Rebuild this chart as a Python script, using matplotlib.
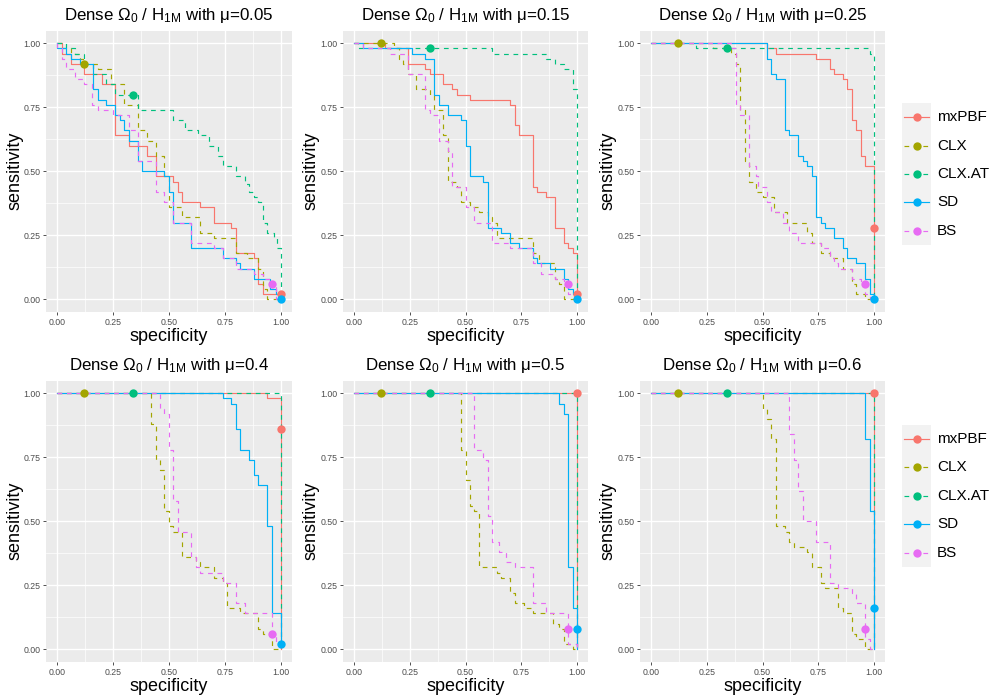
import matplotlib
matplotlib.use("Agg")
import matplotlib.pyplot as plt
from matplotlib.patches import Rectangle
from matplotlib.ticker import MultipleLocator

plt.rcParams['font.family'] = ['Liberation Sans', 'DejaVu Sans']
plt.rcParams['mathtext.fontset'] = 'custom'
plt.rcParams['mathtext.rm'] = 'Liberation Sans'
plt.rcParams['mathtext.it'] = 'Liberation Sans:italic'

# ---------------- data ----------------
mu_labels = ['0.05', '0.15', '0.25', '0.4', '0.5', '0.6']
methods = ['mxPBF', 'CLX', 'CLX.AT', 'SD', 'BS']

# step curves per panel (specificity, sensitivity)
mxPBF_spec = [
    [0, 0.02, 0.06, 0.12, 0.20, 0.26, 0.32, 0.40, 0.44, 0.52, 0.54, 0.56, 0.64, 0.70, 0.78, 0.80, 0.88, 0.90, 0.92, 1.0],
    [0, 0.14, 0.24, 0.32, 0.34, 0.40, 0.44, 0.46, 0.52, 0.70, 0.72, 0.74, 0.80, 0.82, 0.86, 0.90, 0.94, 0.96, 0.98, 1.0],
    [0, 0.52, 0.56, 0.74, 0.80, 0.82, 0.86, 0.88, 0.90, 0.92, 0.94, 0.96, 1.0],
    [0, 0.94, 1.0],
    [0, 1.0],
    [0, 1.0],
]
mxPBF_sens = [
    [1, 0.96, 0.92, 0.88, 0.84, 0.64, 0.60, 0.56, 0.48, 0.46, 0.42, 0.38, 0.36, 0.30, 0.28, 0.18, 0.16, 0.06, 0.02, 0.02],
    [1, 0.98, 0.92, 0.90, 0.88, 0.84, 0.82, 0.80, 0.78, 0.76, 0.68, 0.64, 0.44, 0.42, 0.40, 0.28, 0.22, 0.20, 0.18, 0.02],
    [1, 0.98, 0.96, 0.94, 0.90, 0.88, 0.86, 0.82, 0.70, 0.66, 0.56, 0.52, 0.0],
    [1, 0.98, 0.0],
    [1, 0.0],
    [1, 0.0],
]
CLX_spec = [
    [0, 0.02, 0.06, 0.10, 0.12, 0.18, 0.24, 0.30, 0.36, 0.40, 0.44, 0.48, 0.50, 0.56, 0.64, 0.70, 0.80, 0.85, 0.90, 0.92, 0.94, 1.0],
    [0, 0.18, 0.20, 0.22, 0.24, 0.28, 0.34, 0.36, 0.40, 0.42, 0.46, 0.48, 0.52, 0.56, 0.60, 0.62, 0.64, 0.80, 0.83, 0.90, 0.92, 0.94, 1.0],
    [0, 0.28, 0.36, 0.38, 0.40, 0.42, 0.44, 0.47, 0.50, 0.55, 0.61, 0.70, 0.72, 0.76, 0.80, 0.86, 0.90, 0.92, 0.96, 1.0],
    [0, 0.42, 0.44, 0.46, 0.48, 0.50, 0.52, 0.56, 0.62, 0.64, 0.70, 0.74, 0.76, 0.82, 0.90, 0.92, 0.96, 1.0],
    [0, 0.48, 0.50, 0.52, 0.54, 0.56, 0.64, 0.66, 0.70, 0.72, 0.76, 0.80, 0.89, 0.92, 0.94, 0.98, 1.0],
    [0, 0.50, 0.52, 0.54, 0.56, 0.60, 0.62, 0.64, 0.70, 0.72, 0.76, 0.78, 0.84, 0.86, 0.90, 0.92, 0.96, 1.0],
]
CLX_sens = [
    [1, 0.98, 0.96, 0.94, 0.92, 0.90, 0.84, 0.76, 0.66, 0.62, 0.56, 0.48, 0.36, 0.32, 0.26, 0.24, 0.18, 0.16, 0.12, 0.04, 0.0, 0.0],
    [1, 0.98, 0.94, 0.92, 0.88, 0.82, 0.80, 0.74, 0.64, 0.46, 0.44, 0.38, 0.36, 0.34, 0.32, 0.30, 0.24, 0.18, 0.14, 0.08, 0.06, 0.0, 0.0],
    [1, 0.98, 0.96, 0.92, 0.74, 0.54, 0.46, 0.42, 0.40, 0.34, 0.30, 0.26, 0.22, 0.18, 0.16, 0.12, 0.06, 0.02, 0.0, 0.0],
    [1, 0.88, 0.74, 0.70, 0.54, 0.48, 0.46, 0.36, 0.34, 0.32, 0.28, 0.26, 0.16, 0.14, 0.08, 0.06, 0.0, 0.0],
    [1, 0.78, 0.66, 0.56, 0.54, 0.32, 0.30, 0.28, 0.22, 0.18, 0.16, 0.14, 0.10, 0.08, 0.02, 0.0, 0.0],
    [1, 0.94, 0.90, 0.82, 0.48, 0.46, 0.42, 0.40, 0.38, 0.32, 0.26, 0.24, 0.16, 0.14, 0.06, 0.04, 0.0, 0.0],
]
CLXAT_spec = [
    [0, 0.04, 0.08, 0.12, 0.16, 0.22, 0.26, 0.36, 0.52, 0.57, 0.63, 0.68, 0.72, 0.74, 0.80, 0.84, 0.86, 0.88, 0.90, 0.92, 0.94, 0.97, 0.985, 1.0],
    [0, 0.02, 0.62, 0.86, 0.90, 0.94, 0.98, 1.0],
    [0, 0.20, 0.98, 1.0],
    [0, 1.0],
    [0, 1.0],
    [0, 1.0],
]
CLXAT_sens = [
    [1, 0.98, 0.96, 0.92, 0.88, 0.84, 0.80, 0.74, 0.70, 0.66, 0.64, 0.60, 0.56, 0.52, 0.48, 0.45, 0.42, 0.40, 0.38, 0.30, 0.26, 0.24, 0.20, 0.0],
    [1, 0.98, 0.96, 0.94, 0.92, 0.90, 0.82, 0.0],
    [1, 0.98, 0.96, 0.0],
    [1, 0.0],
    [1, 0.0],
    [1, 0.0],
]
SD_spec = [
    [0, 0, 0.04, 0.06, 0.10, 0.16, 0.18, 0.22, 0.26, 0.28, 0.30, 0.32, 0.36, 0.38, 0.48, 0.50, 0.52, 0.60, 0.74, 0.80, 0.82, 0.88, 0.955, 0.98, 1.0],
    [0, 0.04, 0.26, 0.32, 0.36, 0.38, 0.42, 0.48, 0.50, 0.52, 0.58, 0.60, 0.66, 0.70, 0.74, 0.80, 0.82, 0.88, 0.94, 0.96, 0.98, 1.0],
    [0, 0.52, 0.54, 0.56, 0.60, 0.62, 0.66, 0.68, 0.70, 0.72, 0.74, 0.76, 0.78, 0.82, 0.86, 0.88, 0.92, 0.96, 0.98, 1.0],
    [0, 0.74, 0.78, 0.80, 0.82, 0.86, 0.88, 0.90, 0.94, 0.96, 1.0],
    [0, 0.92, 0.94, 0.96, 0.98, 1.0],
    [0, 0.96, 0.98, 1.0],
]
SD_sens = [
    [1, 0.98, 0.96, 0.94, 0.92, 0.82, 0.78, 0.76, 0.72, 0.70, 0.66, 0.62, 0.54, 0.50, 0.48, 0.42, 0.30, 0.20, 0.16, 0.14, 0.12, 0.08, 0.04, 0.02, 0.0],
    [1, 0.98, 0.96, 0.94, 0.80, 0.76, 0.72, 0.70, 0.60, 0.48, 0.46, 0.28, 0.26, 0.22, 0.20, 0.16, 0.14, 0.12, 0.08, 0.04, 0.02, 0.0],
    [1, 0.94, 0.88, 0.86, 0.66, 0.64, 0.56, 0.54, 0.52, 0.48, 0.32, 0.30, 0.28, 0.24, 0.20, 0.16, 0.14, 0.08, 0.02, 0.0],
    [1, 0.98, 0.96, 0.86, 0.78, 0.74, 0.68, 0.64, 0.48, 0.14, 0.02],
    [1, 0.96, 0.92, 0.32, 0.16, 0.0],
    [1, 0.82, 0.54, 0.0],
]
BS_spec = [
    [0, 0, 0.02, 0.04, 0.08, 0.12, 0.155, 0.18, 0.25, 0.32, 0.36, 0.44, 0.48, 0.52, 0.60, 0.70, 0.74, 0.80, 0.88, 0.92, 0.96, 0.98, 1.0],
    [0, 0.04, 0.16, 0.24, 0.32, 0.34, 0.38, 0.42, 0.44, 0.50, 0.54, 0.62, 0.70, 0.80, 0.84, 0.90, 0.94, 0.96, 1.0],
    [0, 0.36, 0.38, 0.40, 0.44, 0.47, 0.48, 0.52, 0.54, 0.59, 0.62, 0.66, 0.76, 0.80, 0.82, 0.84, 0.90, 0.94, 0.96, 0.98, 1.0],
    [0, 0.46, 0.48, 0.50, 0.52, 0.54, 0.60, 0.62, 0.64, 0.74, 0.80, 0.84, 0.96, 0.98, 1.0],
    [0, 0.54, 0.58, 0.60, 0.62, 0.65, 0.68, 0.72, 0.80, 0.86, 0.96, 1.0],
    [0, 0.62, 0.64, 0.66, 0.68, 0.74, 0.80, 0.84, 0.90, 0.92, 0.96, 0.98, 1.0],
]
BS_sens = [
    [1, 0.98, 0.94, 0.90, 0.86, 0.84, 0.76, 0.74, 0.72, 0.66, 0.54, 0.42, 0.38, 0.30, 0.22, 0.20, 0.16, 0.12, 0.10, 0.08, 0.06, 0.0, 0.0],
    [1, 0.98, 0.96, 0.88, 0.74, 0.72, 0.62, 0.58, 0.44, 0.36, 0.30, 0.22, 0.20, 0.14, 0.10, 0.08, 0.06, 0.02, 0.0],
    [1, 0.98, 0.76, 0.72, 0.52, 0.48, 0.44, 0.38, 0.34, 0.30, 0.26, 0.22, 0.20, 0.16, 0.14, 0.12, 0.08, 0.06, 0.02, 0.0, 0.0],
    [1, 0.94, 0.92, 0.78, 0.58, 0.46, 0.36, 0.32, 0.30, 0.26, 0.18, 0.14, 0.06, 0.02, 0.0],
    [1, 0.78, 0.74, 0.52, 0.42, 0.38, 0.34, 0.32, 0.18, 0.14, 0.02, 0.0],
    [1, 0.84, 0.74, 0.62, 0.50, 0.42, 0.26, 0.24, 0.22, 0.18, 0.04, 0.0, 0.0],
]

# selected operating points per panel
mxPBF_pt_spec = [1, 1, 1, 1, 1, 1]
mxPBF_pt_sens = [0.02, 0.02, 0.28, 0.86, 1.0, 1.0]
CLX_pt_spec = [0.12, 0.12, 0.12, 0.12, 0.12, 0.12]
CLX_pt_sens = [0.92, 1.0, 1.0, 1.0, 1.0, 1.0]
CLXAT_pt_spec = [0.34, 0.34, 0.34, 0.34, 0.34, 0.34]
CLXAT_pt_sens = [0.80, 0.98, 0.98, 1.0, 1.0, 1.0]
SD_pt_spec = [1, 1, 1, 1, 1, 1]
SD_pt_sens = [0.0, 0.0, 0.0, 0.02, 0.08, 0.16]
BS_pt_spec = [0.96, 0.96, 0.96, 0.96, 0.96, 0.96]
BS_pt_sens = [0.06, 0.06, 0.06, 0.06, 0.08, 0.08]

tick_vals = [0, 0.25, 0.5, 0.75, 1.0]
tick_labels = ['0.00', '0.25', '0.50', '0.75', '1.00']

# ---------------- style ----------------
colors = ['#F8766D', '#A3A500', '#00BF7D', '#00B0F6', '#E76BF3']
dashed = [False, True, True, False, True]
curve_spec = [mxPBF_spec, CLX_spec, CLXAT_spec, SD_spec, BS_spec]
curve_sens = [mxPBF_sens, CLX_sens, CLXAT_sens, SD_sens, BS_sens]
pt_spec = [mxPBF_pt_spec, CLX_pt_spec, CLXAT_pt_spec, SD_pt_spec, BS_pt_spec]
pt_sens = [mxPBF_pt_sens, CLX_pt_sens, CLXAT_pt_sens, SD_pt_sens, BS_pt_sens]

W, H = 1000, 700
fig = plt.figure(figsize=(10, 7), dpi=100)
fig.patch.set_facecolor('white')

lefts = [46.2, 342.8, 639.8]
tops = [30.5, 380.5]
pw, ph = 245.5, 281.6

LW = 0.85
for p in range(6):
    r, c = divmod(p, 3)
    ax = fig.add_axes([lefts[c] / W, 1 - (tops[r] + ph) / H, pw / W, ph / H])
    ax.set_facecolor('#EBEBEB')
    for s in ax.spines.values():
        s.set_visible(False)
    ax.set_xlim(-0.05, 1.05)
    ax.set_ylim(-0.05, 1.05)
    ax.xaxis.set_minor_locator(MultipleLocator(0.125))
    ax.yaxis.set_minor_locator(MultipleLocator(0.125))
    ax.set_xticks(tick_vals)
    ax.set_xticklabels(tick_labels)
    ax.set_yticks(tick_vals)
    ax.set_yticklabels(tick_labels)
    ax.grid(which='major', color='white', linewidth=1.0)
    ax.grid(which='minor', color='white', linewidth=0.5)
    ax.set_axisbelow(True)
    ax.tick_params(which='major', length=2.5, width=0.6, color='#333333',
                   labelsize=6.3, labelcolor='#4D4D4D', pad=1.5)
    ax.tick_params(which='minor', length=0)
    for m in range(5):
        kw = dict(color=colors[m], linewidth=LW, where='post')
        if dashed[m]:
            kw['linestyle'] = (0, (4, 4))
        ax.step(curve_spec[m][p], curve_sens[m][p], **kw)
    for m in range(5):
        ax.plot([pt_spec[m][p]], [pt_sens[m][p]], 'o', color=colors[m],
                markersize=6, markeredgewidth=0, zorder=5)
    ax.set_title(r'Dense $\mathregular{\Omega_0}$ / $\mathregular{H_{1M}}$ with μ=' + mu_labels[p],
                 fontsize=12.2, pad=7.5)
    ax.set_xlabel('specificity', fontsize=13, labelpad=1)
    ax.set_ylabel('sensitivity', fontsize=13)
    ax.yaxis.set_label_coords(-0.094, 0.5)

# ---------------- legends ----------------
leg_tops = [103.0, 424.8]
key_h = 28.4
for r in range(2):
    lax = fig.add_axes([900 / W, 1 - (leg_tops[r] + 5 * key_h + 5) / H, 100 / W, (5 * key_h + 10) / H])
    lax.set_xlim(900, 1000)
    lax.set_ylim(leg_tops[r] + 5 * key_h + 5, leg_tops[r] - 5)
    lax.axis('off')
    lax.add_patch(Rectangle((902, leg_tops[r]), 29, 5 * key_h, facecolor='#F2F2F2',
                            edgecolor='none'))
    for m in range(5):
        yc = leg_tops[r] + key_h * (m + 0.5)
        kw = dict(color=colors[m], linewidth=LW)
        if dashed[m]:
            kw['linestyle'] = (0, (4, 4))
        lax.plot([904, 929], [yc, yc], **kw)
        lax.plot([916.5], [yc], 'o', color=colors[m], markersize=6, markeredgewidth=0)
        lax.text(937, yc, methods[m], fontsize=11, va='center', ha='left', color='black')

fig.savefig('out.png', dpi=100, facecolor='white')
